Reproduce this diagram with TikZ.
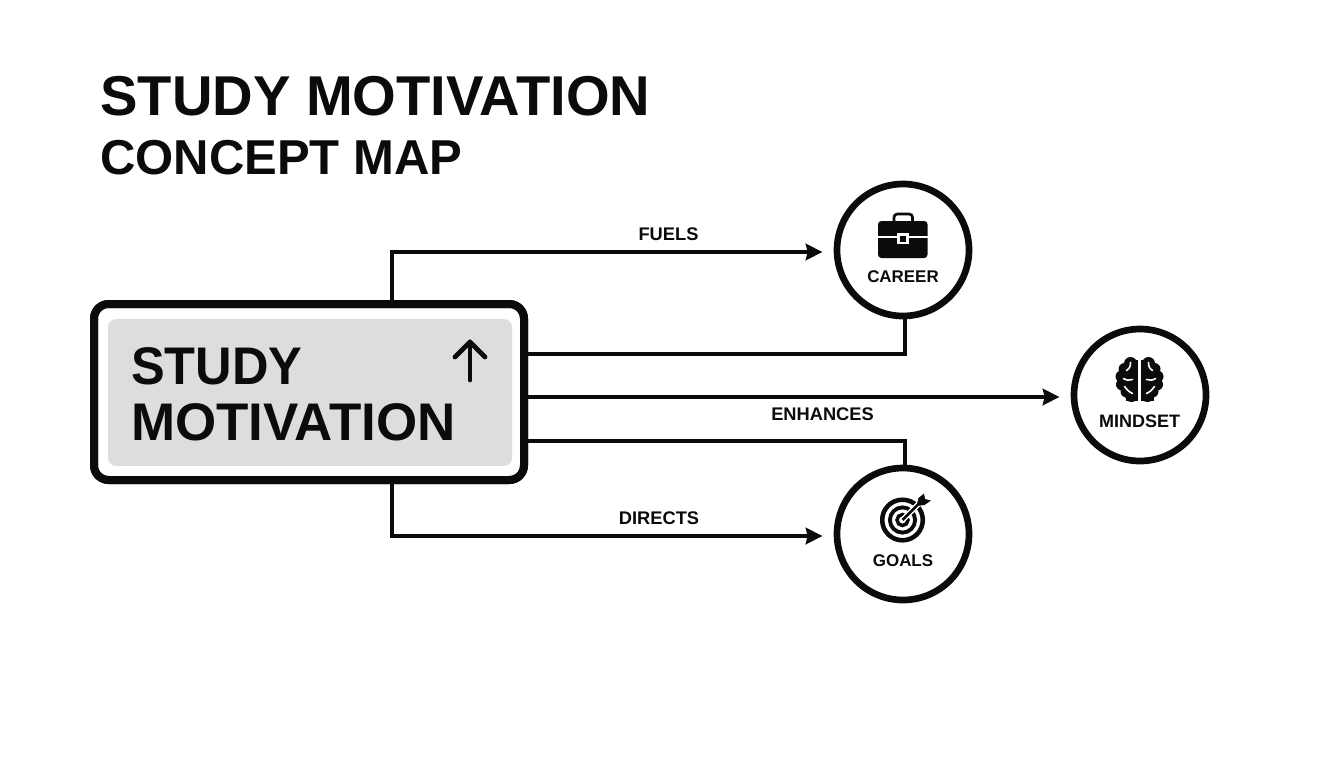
\documentclass[tikz,border=0pt]{standalone}
\usepackage{fontspec}
\setmainfont{Liberation Sans}
\usetikzlibrary{arrows.meta}
\definecolor{ink}{HTML}{0B0B0B}
\definecolor{panel}{HTML}{DDDDDC}
\tikzset{
  px/.style={x=0.75pt,y=-0.75pt},
  conn/.style={draw=ink,line width=2.3pt},
  arrowconn/.style={conn,-{Stealth[length=12.5pt,width=12.5pt,inset=1.5pt]},shorten >=0pt},
  topic/.style={circle,draw=ink,line width=5pt,minimum size=99pt,inner sep=0pt,fill=white},
  hub/.style={rectangle,rounded corners=11pt,draw=ink,line width=6pt,minimum width=322.5pt,minimum height=132pt,inner sep=0pt,fill=white},
  panelbox/.style={rectangle,rounded corners=6pt,fill=panel,minimum width=303pt,minimum height=110pt,inner sep=0pt},
  linklabel/.style={font=\bfseries\fontsize{13.7pt}{14pt}\selectfont,text=ink,inner sep=0pt},
  topiclabel/.style={font=\bfseries\fontsize{12.7pt}{14pt}\selectfont,text=ink,inner sep=0pt},
  hubtext/.style={font=\bfseries\fontsize{39.7pt}{42pt}\selectfont,text=ink,inner sep=0pt,anchor=base west},
}
\begin{document}
\begin{tikzpicture}[px]
\useasboundingbox (0,0) rectangle (1344,768);
\fill[white] (0,0) rectangle (1344,768);
\node[font=\bfseries\fontsize{42.1pt}{44pt}\selectfont,text=ink,inner sep=0pt,anchor=base west] (title1) at (100,115) {STUDY MOTIVATION};
\node[font=\bfseries\fontsize{36.75pt}{40pt}\selectfont,text=ink,inner sep=0pt,anchor=base west] (title2) at (100,174) {CONCEPT MAP};
% connectors
\node[hub] (hub) at (309,392) {};
\node[topic] (career) at (903,250) {};
\node[topic] (mindset) at (1140,395) {};
\node[topic] (goals) at (903,534) {};
\draw[arrowconn] ([xshift=62.25pt]hub.north) |- ([xshift=-8.5pt,yshift=-1.5pt]career.west);
\draw[conn] ([xshift=1.5pt]career.south) |- ([yshift=28.5pt]hub.east);
\draw[arrowconn] ([yshift=-3.75pt]hub.east) -- ([xshift=-8.5pt,yshift=-1.5pt]mindset.west);
\draw[conn] ([yshift=-36.75pt]hub.east) -| ([xshift=1.5pt]goals.north);
\draw[arrowconn] ([xshift=62.25pt]hub.south) |- ([xshift=-8.5pt,yshift=-1.5pt]goals.west);
\node[hub,fill=none,draw=ink] (hubtop) at (309,392) {};
\node[panelbox] (panel) at (310,392.5) {};
\node[hubtext,xscale=0.955,transform shape] (hub1) at (131,384) {STUDY};
\node[hubtext] (hub2) at (131,440.5) {MOTIVATION};
% up arrow in hub
\draw[ink,line width=3.6pt,line cap=round,line join=round] (470,380) -- (470,342);
\draw[ink,line width=3.6pt,line cap=round,line join=round] (455,357) -- (470,342) -- (485,357);
% labels
\node[linklabel] (lfuels) at (668.5,234.5) {FUELS};
\node[linklabel] (lenh) at (822.5,414.5) {ENHANCES};
\node[linklabel] (ldir) at (659,518.5) {DIRECTS};
\node[topiclabel] (lcareer) at (903,277) {CAREER};
\node[topiclabel,font=\bfseries\fontsize{13.5pt}{14pt}\selectfont] (lmind) at (1139.5,421) {MINDSET};
\node[topiclabel] (lgoals) at (903,561) {GOALS};
% briefcase
\draw[ink,line width=2pt,rounded corners=2.5pt] (894,222) -- (894,214) -- (912.5,214) -- (912.5,222);
\fill[ink,rounded corners=2.5pt] (878,221) rectangle (927.5,258);
\fill[white] (878,235.7) rectangle (927.5,237.7);
\fill[white] (897,233) rectangle (908.5,244);
\fill[ink] (900,235.7) rectangle (906,241.7);
% brain
\begin{scope}[shift={(1139.5,379.5)}]
\foreach \s in {1,-1}{
 \begin{scope}[xscale=\s]
  \fill[ink] (1.7,-20) rectangle (14,21);
  \fill[ink] (9,-16) circle[radius=6.5];
  \fill[ink] (15,-10.5) circle[radius=6];
  \fill[ink] (18,-3) circle[radius=6];
  \fill[ink] (17.5,5) circle[radius=6];
  \fill[ink] (13,12) circle[radius=6];
  \fill[ink] (8,16) circle[radius=6.5];
  \draw[white,line width=1.2pt,line cap=round] (9,-17) .. controls (9,-13) and (10,-11) .. (13,-9);
  \draw[white,line width=1.2pt,line cap=round] (16,-1) .. controls (13,1) and (10,1) .. (7,0);
  \draw[white,line width=1.2pt,line cap=round] (15,7) .. controls (13,10) and (11,12) .. (7,14);
 \end{scope}}
\end{scope}
% target
\begin{scope}[shift={(902.5,520)}]
 \draw[ink,line width=3.4pt] (0,0) circle[radius=20.3];
 \draw[ink,line width=2.9pt] (0,0) circle[radius=12.6];
 \draw[ink,line width=2.6pt] (0,0) circle[radius=5.5];
 \draw[white,line width=4.2pt] (1,-1) -- (16,-16);
 \draw[ink,line width=2pt] (0,0) -- (18,-18);
 \fill[ink] (14,-14) -- (16,-22) -- (21.5,-26.5) -- (22.5,-21) -- (28.5,-19.5) -- (22,-15) -- cycle;
\end{scope}
\end{tikzpicture}
\end{document}
